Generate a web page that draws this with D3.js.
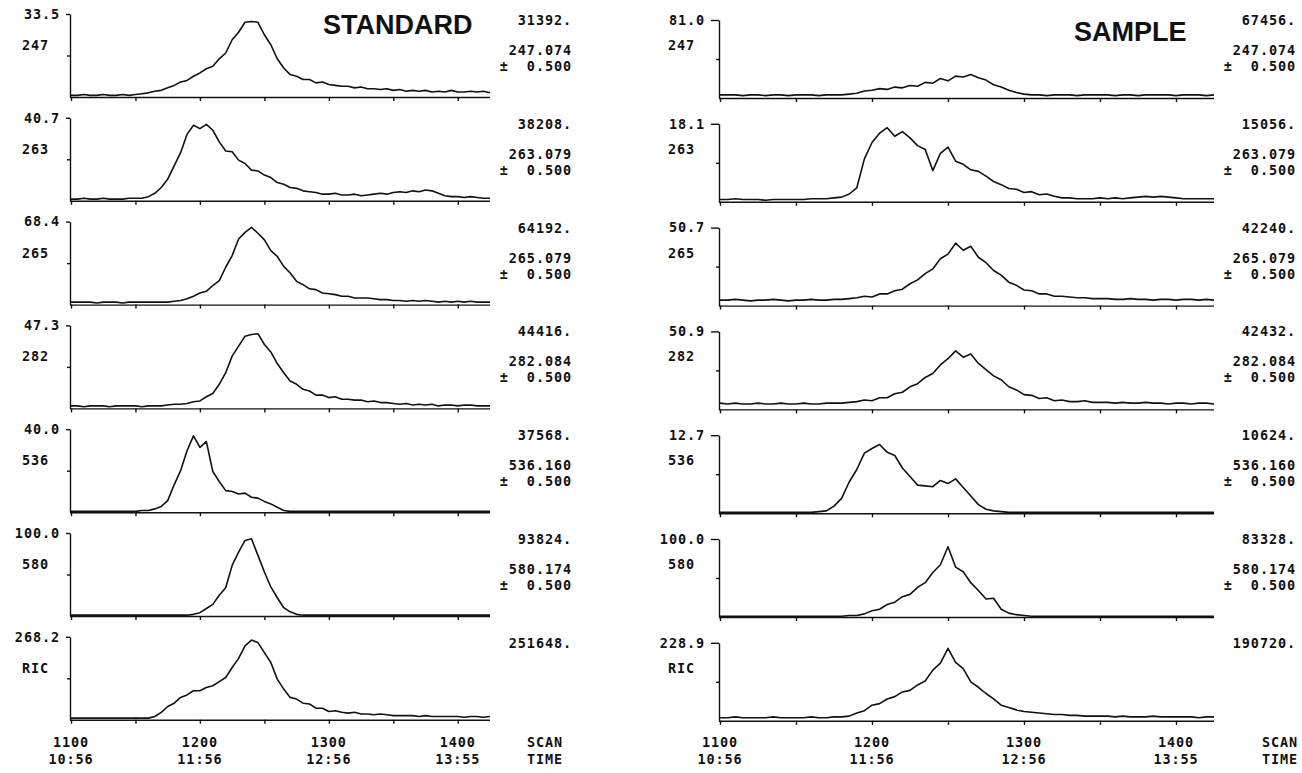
<!DOCTYPE html>
<html>
<head>
<meta charset="utf-8">
<script src="https://cdn.jsdelivr.net/npm/d3@7"></script>
<style>
  body { margin: 0; background: #fff; }
  svg text { font-family: "DejaVu Sans Mono", monospace; font-weight: bold; font-size: 13.5px; letter-spacing: 0.9px; fill: #111; }
  svg text.title { font-family: "Liberation Sans", Arial, sans-serif; font-size: 27px; letter-spacing: 0; }
  .axis path, .axis line { stroke: #111; stroke-width: 1.4; }
  .trace { fill: none; stroke: #111; stroke-width: 1.6; stroke-linejoin: round; }
</style>
</head>
<body>
<div id="chart"></div>
<script>
// scans are sampled every 5 from 1100 to 1425, values are % of each panel's full scale
var scanStart = 1100;
var scanStep = 5;

var massLabels = ["247", "263", "265", "282", "536", "580", "RIC"];
var massWindows = ["247.074", "263.079", "265.079", "282.084", "536.160", "580.174", null];

var stdFullScale = ["33.5", "40.7", "68.4", "47.3", "40.0", "100.0", "268.2"];
var stdTotals = ["31392.", "38208.", "64192.", "44416.", "37568.", "93824.", "251648."];

var smpFullScale = ["81.0", "18.1", "50.7", "50.9", "12.7", "100.0", "228.9"];
var smpTotals = ["67456.", "15056.", "42240.", "42432.", "10624.", "83328.", "190720."];

var scanTicks = [1100, 1200, 1300, 1400];
var timeTicks = ["10:56", "11:56", "12:56", "13:55"];

// STANDARD traces
var std247 = [2,2,3,2,2,3,2,2,3,2,3,
  4,5,7,8,11,14,18,20,25,29,34,37,46,53,69,78,90,91,90,
  75,63,46,35,27,25,21,21,17,18,15,14,13,13,11,12,10,10,9,10,8,
  9,7,8,7,8,6,7,6,8,6,6,7,6,7,5];
var std263 = [2,2,3,2,2,3,2,2,2,3,3,
  3,5,9,16,26,42,58,80,91,87,
  92,85,71,60,59,49,45,37,36,31,
  28,22,20,16,15,12,11,10,8,8,
  9,7,7,8,6,7,8,9,8,10,
  11,10,12,11,13,12,9,6,5,5,
  4,5,4,3,3];
var std265 = [3,3,3,3,2,3,3,3,2,3,3,3,3,3,3,3,
  4,5,7,10,14,16,23,29,45,59,
  79,87,93,86,78,65,58,46,38,28,
  24,19,18,14,13,12,10,10,8,8,
  8,7,6,6,5,5,4,5,4,5,
  4,3,4,3,4,3,4,3,3,3];
var std282 = [3,3,2,3,3,3,2,3,3,3,3,2,3,3,3,
  4,5,5,6,8,9,14,18,29,43,
  63,75,87,89,90,77,68,54,43,33,
  29,23,21,16,16,13,14,11,11,10,
  10,8,9,7,7,6,5,6,4,5,
  4,5,3,4,4,3,4,4,3,3,3];
var std536 = [1,1,1,1,1,1,1,1,1,1,1,2,
  2,4,7,14,33,50,74,92,78,85,
  49,37,26,25,22,23,18,17,13,10,
  6,2,
  1,1,1,1,1,1,1,1,1,1,1,1,1,1,1,1,1,1,1,1,1,1,1,1,1,1,1,1,1,1,1,1];
var std580 = [1,1,1,1,1,1,1,1,1,1,1,1,1,1,1,1,1,1,1,
  2,4,9,14,25,34,61,77,91,93,73,53,35,22,10,5,2,
  1,1,1,1,1,1,1,1,1,1,1,1,1,1,1,1,1,1,1,1,1,1,1,1,1,1,1,1,1,1];
var stdRic = [2,2,2,2,2,2,2,2,2,2,2,2,
  2,4,9,16,20,27,30,35,35,39,
  41,46,51,63,74,89,96,93,81,69,
  49,37,27,25,20,19,14,14,10,11,
  9,8,9,7,7,6,7,6,5,
  5,5,5,4,5,4,4,4,4,4,3,4,4,3,4];

// SAMPLE traces
var smp247 = [4,4,4,3,4,4,3,4,4,3,4,4,4,3,4,4,4,5,
  6,9,10,12,11,14,13,16,15,20,
  19,25,22,28,27,30,26,23,17,14,
  10,7,5,
  4,4,3,4,4,4,3,4,4,4,4,3,4,4,3,4,4,4,4,3,4,4,4,3,4];
var smp263 = [3,3,4,3,3,3,2,3,3,3,3,3,4,4,4,
  5,6,10,18,55,76,88,95,84,90,
  82,72,67,40,62,70,52,48,41,39,
  33,26,22,17,16,12,13,9,10,7,
  5,5,4,4,4,5,4,5,4,5,
  6,7,6,7,6,5,4,4,4,4,4];
var smp265 = [7,7,8,7,6,7,7,8,7,6,7,7,8,7,7,8,8,
  9,10,12,11,15,15,19,21,28,33,
  41,47,60,66,80,71,76,62,55,45,
  39,30,26,20,19,15,15,12,12,11,
  10,10,9,9,
  9,8,8,9,8,8,7,8,8,7,8,8,7,8,7];
var smp282 = [8,7,8,7,7,8,7,7,8,7,7,8,7,7,8,8,8,
  9,10,12,11,15,15,20,22,29,33,
  41,46,57,65,75,67,71,59,51,43,
  38,29,25,19,18,14,15,11,12,10,
  10,11,9,9,
  9,8,9,8,8,9,8,8,7,8,8,7,8,8,7];
var smp536 = [1,1,1,1,1,1,1,1,1,1,1,1,1,2,
  3,9,19,40,56,77,83,88,78,74,
  58,47,36,35,34,42,38,44,33,22,
  11,5,3,2,1,
  1,1,1,1,1,1,1,1,1,1,1,1,1,1,1,1,1,1,1,1,1,1,1,1,1,1,1];
var smp580 = [1,1,1,1,1,1,1,1,1,1,1,1,1,1,1,1,1,2,
  2,4,8,10,16,19,26,29,38,44,
  57,67,90,64,58,44,34,23,24,10,
  5,3,2,
  1,1,1,1,1,1,1,1,1,1,1,1,1,1,1,1,1,1,1,1,1,1,1,1,1];
var smpRic = [4,4,5,4,4,4,4,5,4,4,4,4,5,4,4,5,5,
  6,10,13,20,22,28,31,37,39,46,
  51,65,74,93,75,67,50,43,35,28,
  20,17,14,12,11,10,9,8,8,7,
  7,6,6,6,
  6,5,6,5,5,5,6,5,5,5,5,5,4,5,5];

var stdSeries = [std247, std263, std265, std282, std536, std580, stdRic];
var smpSeries = [smp247, smp263, smp265, smp282, smp536, smp580, smpRic];

var svgWidth = 1302;
var svgHeight = 773;

var svg = d3.select("#chart")
  .append("svg")
  .attr("width", svgWidth)
  .attr("height", svgHeight);

// layout of the two columns
var columns = [
  { title: "STANDARD", titleX: 323, titleY: 34, x0: 71, x1: 490, dy: 0, height: 83, topTick: 4,
    massX: 22, textRight: 572, scanX: 527, full: stdFullScale, totals: stdTotals, series: stdSeries },
  { title: "SAMPLE", titleX: 1074, titleY: 41, x0: 720, x1: 1214, dy: 6, height: 78, topTick: 8,
    massX: 668, textRight: 1296, scanX: 1262, full: smpFullScale, totals: smpTotals, series: smpSeries }
];

var rowStep = 103.8;
var firstRow = 14;

columns.forEach(function(col) {
  var xScale = d3.scaleLinear()
    .domain([1100, 1425])
    .range([col.x0, col.x1]);

  col.series.forEach(function(values, i) {
    var rowY = firstRow + i * rowStep;
    var top = rowY + col.dy;
    var base = top + col.height;

    var yScale = d3.scaleLinear()
      .domain([0, 100])
      .range([base, top]);

    var g = svg.append("g");

    // x axis with scan ticks every 50
    var bottomAxis = d3.axisBottom(xScale)
      .tickValues(d3.range(1100, 1401, 50))
      .tickSize(4)
      .tickSizeOuter(0)
      .tickFormat("");
    g.append("g")
      .attr("class", "axis")
      .attr("transform", `translate(0, ${base})`)
      .call(bottomAxis)
      .select(".domain")
      .attr("d", `M${col.x0 - 1},0.5H${col.x1}`);

    // y axis, only full-scale and mid ticks
    var leftAxis = d3.axisLeft(yScale)
      .tickValues([50, 100])
      .tickSize(3)
      .tickSizeOuter(0)
      .tickFormat("");
    var yAxis = g.append("g")
      .attr("class", "axis")
      .attr("transform", `translate(${col.x0 - 1}, 0)`)
      .call(leftAxis);
    yAxis.selectAll(".tick")
      .filter(function(d) { return d === 100; })
      .select("line")
      .attr("x2", -col.topTick);

    // trace
    var line = d3.line()
      .x(function(d, j) { return xScale(scanStart + j * scanStep); })
      .y(function(d) { return yScale(d); });
    g.append("path")
      .datum(values)
      .attr("class", "trace")
      .attr("d", line);

    // left labels
    g.append("text")
      .attr("x", col.x0 - col.topTick - 7)
      .attr("y", top)
      .attr("dy", "0.36em")
      .attr("text-anchor", "end")
      .text(col.full[i]);
    g.append("text")
      .attr("x", col.massX)
      .attr("y", rowY + 36)
      .text(massLabels[i]);

    // right labels
    g.append("text")
      .attr("x", col.textRight)
      .attr("y", rowY + 11)
      .attr("text-anchor", "end")
      .text(col.totals[i]);
    if (massWindows[i]) {
      g.append("text")
        .attr("x", col.textRight)
        .attr("y", rowY + 41)
        .attr("text-anchor", "end")
        .text(massWindows[i]);
      g.append("text")
        .attr("x", col.textRight)
        .attr("y", rowY + 57)
        .attr("text-anchor", "end")
        .style("white-space", "pre")
        .text("\u00b1  0.500");
    }
  });

  // title
  svg.append("text")
    .attr("class", "title")
    .attr("x", col.titleX)
    .attr("y", col.titleY)
    .text(col.title);

  // scan / time labels
  var labels = svg.append("g");
  scanTicks.forEach(function(s, k) {
    labels.append("text")
      .attr("x", xScale(s))
      .attr("y", 747)
      .attr("text-anchor", "middle")
      .text(s);
    labels.append("text")
      .attr("x", xScale(s))
      .attr("y", 764)
      .attr("text-anchor", "middle")
      .text(timeTicks[k]);
  });
  labels.append("text").attr("x", col.scanX).attr("y", 747).text("SCAN");
  labels.append("text").attr("x", col.scanX).attr("y", 764).text("TIME");
});
</script>
</body>
</html>
